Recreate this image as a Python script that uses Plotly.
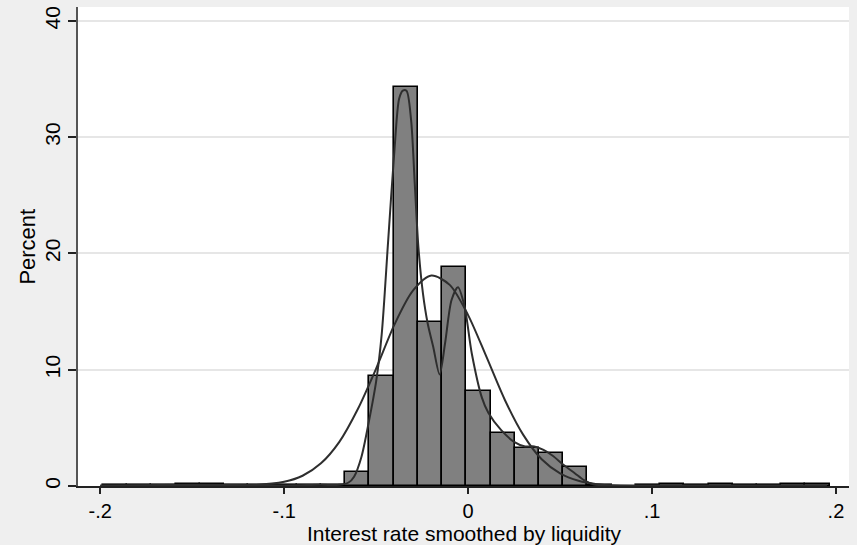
import plotly.graph_objects as go

# Histogram of the smoothed interest rate (percent of observations per bin)
bin_start = -0.1985
bin_width = 0.01317
bin_percent = [
    0.10, 0.10, 0.05, 0.15, 0.20, 0.10, 0.05, 0.10, 0.10, 0.05,
    1.2, 9.5, 34.3, 14.1, 18.8, 8.2, 4.6, 3.3, 2.8, 1.6,
    0.05, None, 0.10, 0.15, 0.10, 0.15, 0.05, 0.10, 0.15, 0.20,
]

# Kernel density estimate, scaled to percent
kde_x = [-0.200, -0.150, -0.100, -0.080, -0.070, -0.065, -0.062, -0.058, -0.054,
         -0.050, -0.047, -0.0435, -0.040, -0.0375, -0.0355, -0.0335, -0.031,
         -0.029, -0.027, -0.0245, -0.022, -0.019, -0.0155, -0.0125, -0.009,
         -0.0055, -0.002, 0.002, 0.0075, 0.011, 0.018, 0.025, 0.031, 0.036,
         0.041, 0.046, 0.052, 0.058, 0.063, 0.068, 0.075, 0.100, 0.150, 0.195]
kde_y = [0.05, 0.10, 0.05, 0.10, 0.10, 0.30, 0.8, 2.5, 5.5,
         9.0, 13.0, 21.0, 29.0, 33.3, 34.0, 34.0, 31.5,
         26.0, 20.5, 16.5, 14.0, 12.0, 9.6, 12.3, 16.0,
         17.1, 15.5, 11.4, 7.6, 6.3, 4.8, 3.8, 3.4, 3.4,
         3.1, 2.6, 1.8, 1.1, 0.5, 0.15, 0.05, 0.05, 0.05, 0.05]

# Fitted normal density, scaled to percent
norm_x = [-0.200, -0.150, -0.120, -0.100, -0.090, -0.080, -0.070, -0.060, -0.050,
          -0.040, -0.030, -0.020, -0.010, 0.000, 0.010, 0.020, 0.030, 0.040,
          0.050, 0.060, 0.070, 0.080, 0.100, 0.150, 0.195]
norm_y = [0.0, 0.0, 0.04, 0.36, 0.88, 1.95, 3.8, 6.6, 10.1,
          13.9, 16.8, 18.1, 17.3, 14.7, 11.1, 7.4, 4.4, 2.3,
          1.09, 0.45, 0.16, 0.05, 0.0, 0.0, 0.0]

x_ticks = [-0.2, -0.1, 0.0, 0.1, 0.2]
x_tick_text = ["-.2", "-.1", "0", ".1", ".2"]
y_ticks = [0, 10, 20, 30, 40]

x_title = "Interest rate smoothed by liquidity"
y_title = "Percent"

bin_centers = [bin_start + bin_width * (i + 0.5) for i in range(len(bin_percent))]

FONT = "Liberation Sans, Arial, sans-serif"
INK = "#2e2e2e"

fig = go.Figure()
fig.add_trace(go.Bar(
    x=bin_centers, y=bin_percent, width=bin_width,
    marker=dict(color="#808080", line=dict(color="#000000", width=1.6)),
    showlegend=False, hoverinfo="skip",
))
fig.add_trace(go.Scatter(
    x=kde_x, y=kde_y, mode="lines",
    line=dict(color=INK, width=2, shape="spline", smoothing=0.8),
    showlegend=False,
))
fig.add_trace(go.Scatter(
    x=norm_x, y=norm_y, mode="lines",
    line=dict(color=INK, width=2, shape="spline", smoothing=0.8),
    showlegend=False,
))

fig.update_layout(
    width=857, height=545,
    margin=dict(l=78, r=8, t=7, b=59),
    paper_bgcolor="#efefef", plot_bgcolor="#ffffff",
    font=dict(family=FONT, size=21, color="#000000"),
    bargap=0,
    xaxis=dict(
        range=[-0.2121, 0.2071], tickvals=x_ticks, ticktext=x_tick_text,
        ticks="outside", ticklen=6, tickwidth=1.5, tickcolor="#222222",
        showline=True, linecolor="#222222", linewidth=1.5,
        showgrid=False, zeroline=False,
        tickfont=dict(size=20),
    ),
    yaxis=dict(
        range=[0, 41.2], tickvals=y_ticks, tickangle=-90,
        ticks="outside", ticklen=8, tickwidth=1.5, tickcolor="#222222",
        showline=True, linecolor="#555555", linewidth=1.5,
        showgrid=True, gridcolor="#e6e6e6", gridwidth=1.5, zeroline=False,
        tickfont=dict(size=21),
    ),
    annotations=[
        dict(text=x_title, xref="paper", yref="paper", x=0.5, y=-0.1,
             xanchor="center", yanchor="middle", showarrow=False,
             font=dict(size=21)),
        dict(text=y_title, xref="paper", yref="paper", x=-0.066, y=0.5,
             xanchor="center", yanchor="middle", textangle=-90, showarrow=False,
             font=dict(size=22)),
    ],
)

fig.write_html("out.html")
